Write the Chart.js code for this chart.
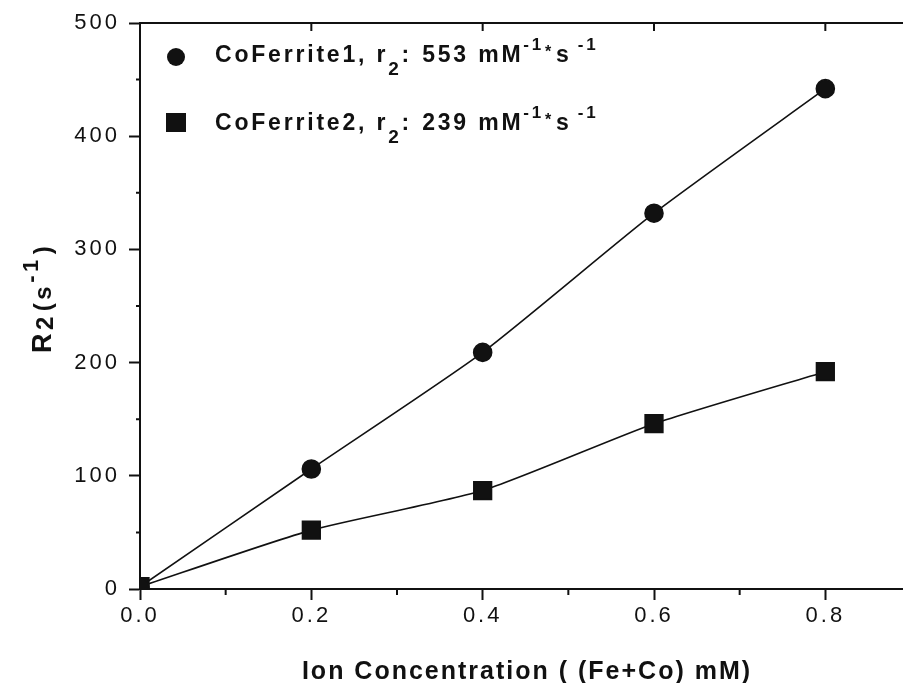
<!DOCTYPE html>
<html>
<head>
<meta charset="utf-8">
<script src="https://cdn.jsdelivr.net/npm/chart.js@4.4.1/dist/chart.umd.min.js"></script>
<style>
    html, body { margin: 0; padding: 0; background: #fff; }
    #wrap { width: 903px; height: 683px; overflow: hidden; position: relative; }
    canvas { display: block; }
</style>
</head>
<body>
<div id="wrap"><canvas id="chart" width="921" height="683"></canvas></div>
<script>
// data
const concentration = [0, 0.2, 0.4, 0.6, 0.8];
const ferrite1 = [2, 106, 209, 332, 442];
const ferrite2 = [2, 52, 87, 146, 192];
const seriesNames = ['CoFerrite1', 'CoFerrite2'];
const relaxivity = [553, 239];
const xMinorTicks = [0.1, 0.3, 0.5, 0.7];
const yMinorTicks = [50, 150, 250, 350, 450];

const FONT = "'Liberation Sans', Arial, sans-serif";
const INK = '#111';

// draws a run of text pieces (sub/superscripts) left to right
function drawRich(ctx, parts, x, y) {
    let cx = x;
    parts.forEach(p => {
        ctx.font = `bold ${p.size}px ${FONT}`;
        ctx.fillText(p.t, cx, y + (p.dy || 0));
        cx += ctx.measureText(p.t).width + (p.gap || 0);
    });
}

// wider letter spacing for the tick labels, like the scanned figure
const spacingPlugin = {
    id: 'spacing',
    beforeDraw(chart) { chart.ctx.letterSpacing = '3px'; },
    beforeDatasetsDraw(chart) { chart.ctx.letterSpacing = '0px'; }
};

const decorPlugin = {
    id: 'decor',
    afterDraw(chart) {
        const ctx = chart.ctx;
        const xs = chart.scales.x;
        const ys = chart.scales.y;
        const area = chart.chartArea;
        ctx.save();
        ctx.strokeStyle = INK;
        ctx.fillStyle = INK;
        ctx.lineWidth = 2;

        // top / right frame + inward ticks on top
        ctx.beginPath();
        ctx.moveTo(area.left, area.top);
        ctx.lineTo(area.right, area.top);
        ctx.lineTo(area.right, area.bottom);
        concentration.forEach(v => {
            if (v === 0) return;
            const px = xs.getPixelForValue(v);
            ctx.moveTo(px, area.top);
            ctx.lineTo(px, area.top + 8);
        });
        // minor ticks
        xMinorTicks.forEach(v => {
            const px = xs.getPixelForValue(v);
            ctx.moveTo(px, area.bottom);
            ctx.lineTo(px, area.bottom + 6);
        });
        yMinorTicks.forEach(v => {
            const py = ys.getPixelForValue(v);
            ctx.moveTo(area.left, py);
            ctx.lineTo(area.left - 4, py);
        });
        ctx.stroke();

        // legend
        ctx.textBaseline = 'alphabetic';
        ctx.textAlign = 'left';
        ctx.beginPath();
        ctx.arc(176, 57, 9, 0, Math.PI * 2);
        ctx.fill();
        ctx.fillRect(166, 113, 20, 19);
        ctx.letterSpacing = '2.8px';
        [62, 130].forEach((by, i) => {
            drawRich(ctx, [
                { t: seriesNames[i] + ', r', size: 23 },
                { t: '2', size: 19, dy: 13 },
                { t: ': ', size: 23, gap: 1 },
                { t: relaxivity[i] + ' mM', size: 23 },
                { t: '-1', size: 17, dy: -12, gap: 1 },
                { t: '*', size: 16, dy: -5, gap: 2 },
                { t: 's', size: 23, gap: 6 },
                { t: '-1', size: 17, dy: -12 }
            ], 215, by);
        });

        // x axis title
        ctx.letterSpacing = '2px';
        ctx.font = `bold 25px ${FONT}`;
        ctx.textAlign = 'center';
        ctx.fillText('Ion Concentration ( (Fe+Co) mM)', 527, 679);

        // y axis title, rotated
        ctx.translate(51, 353);
        ctx.rotate(-Math.PI / 2);
        ctx.textAlign = 'left';
        ctx.letterSpacing = '3.5px';
        drawRich(ctx, [
            { t: 'R', size: 27 },
            { t: '2', size: 24, dy: 2, gap: 2 },
            { t: '(s', size: 24 },
            { t: '-1', size: 22, dy: -13, gap: 2 },
            { t: ')', size: 24 }
        ], 0, 0);
        ctx.restore();
    }
};

const ctx = document.getElementById('chart').getContext('2d');
new Chart(ctx, {
    type: 'line',
    data: {
        datasets: [
            {
                label: seriesNames[0],
                data: concentration.map((x, i) => ({ x: x, y: ferrite1[i] })),
                borderColor: INK,
                backgroundColor: INK,
                borderWidth: 1.6,
                pointStyle: 'circle',
                pointRadius: 9,
                tension: 0.2
            },
            {
                label: seriesNames[1],
                data: concentration.map((x, i) => ({ x: x, y: ferrite2[i] })),
                borderColor: INK,
                backgroundColor: INK,
                borderWidth: 1.6,
                pointStyle: 'rect',
                pointRadius: 12.5,
                tension: 0.2
            }
        ]
    },
    options: {
        responsive: false,
        animation: false,
        layout: {
            autoPadding: false,
            padding: { left: 0, top: 23, right: 10, bottom: 0 }
        },
        plugins: {
            legend: { display: false },
            tooltip: { enabled: false }
        },
        scales: {
            x: {
                type: 'linear',
                min: 0,
                max: 0.9,
                afterFit: s => { s.height = 94; },
                ticks: {
                    stepSize: 0.2,
                    includeBounds: false,
                    padding: 3,
                    color: INK,
                    font: { family: FONT, size: 22 },
                    callback: v => v.toFixed(1)
                },
                grid: {
                    drawOnChartArea: false,
                    drawTicks: true,
                    tickLength: 11,
                    tickWidth: 2,
                    tickColor: INK
                },
                border: { display: true, color: INK, width: 2 }
            },
            y: {
                min: 0,
                max: 500,
                afterFit: s => { s.width = 140; },
                ticks: {
                    stepSize: 100,
                    padding: 9,
                    color: INK,
                    font: { family: FONT, size: 22 }
                },
                grid: {
                    drawOnChartArea: false,
                    drawTicks: true,
                    tickLength: 11,
                    tickWidth: 2,
                    tickColor: INK
                },
                border: { display: true, color: INK, width: 2 }
            }
        }
    },
    plugins: [spacingPlugin, decorPlugin]
});
</script>
</body>
</html>
